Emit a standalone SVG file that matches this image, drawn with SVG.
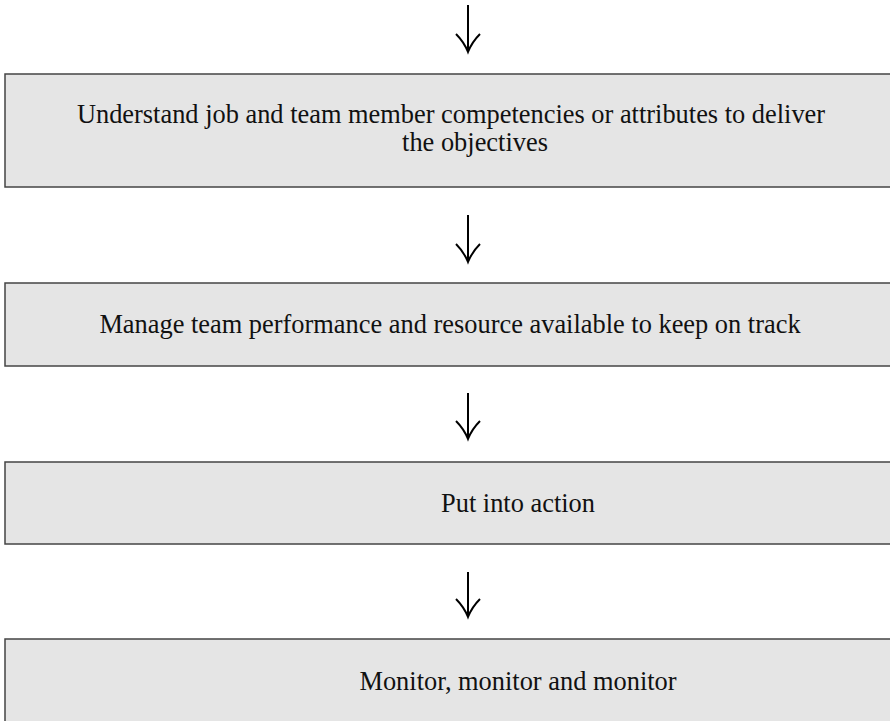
<svg xmlns="http://www.w3.org/2000/svg" width="890" height="721" viewBox="0 0 890 721">
  <style>
    .box { fill: #e5e5e5; stroke: #444; stroke-width: 1.5; }
    .label { font-family: "Liberation Serif", "Times New Roman", serif; font-size: 26.4px; fill: #111; text-anchor: middle; }
    .shaft { stroke: #000; stroke-width: 2; fill: none; }
    .head { stroke: #000; stroke-width: 2; fill: none; stroke-linejoin: miter; }
  </style>
  <rect width="890" height="721" fill="#fff"/>

  <g id="connectors">
    <g id="arrow-0">
      <line class="shaft" x1="468" y1="5" x2="468" y2="51"/>
      <path class="head" d="M456,34 Q464,42 468,52 Q472,42 480,34"/>
    </g>
    <g id="arrow-1">
      <line class="shaft" x1="468" y1="215" x2="468" y2="261"/>
      <path class="head" d="M456,244 Q464,252 468,262 Q472,252 480,244"/>
    </g>
    <g id="arrow-2">
      <line class="shaft" x1="468" y1="393" x2="468" y2="438"/>
      <path class="head" d="M456,421 Q464,429 468,439 Q472,429 480,421"/>
    </g>
    <g id="arrow-3">
      <line class="shaft" x1="468" y1="572" x2="468" y2="616"/>
      <path class="head" d="M456,599 Q464,607 468,617 Q472,607 480,599"/>
    </g>
  </g>

  <g id="understand">
    <rect class="box" x="5" y="74" width="900" height="113"/>
    <text class="label" x="451" y="123">Understand job and team member competencies or attributes to deliver</text>
    <text class="label" x="475" y="151">the objectives</text>
  </g>

  <g id="manage">
    <rect class="box" x="5" y="283" width="900" height="83"/>
    <text class="label" x="450" y="333">Manage team performance and resource available to keep on track</text>
  </g>

  <g id="action">
    <rect class="box" x="5" y="462" width="900" height="82"/>
    <text class="label" x="518" y="512">Put into action</text>
  </g>

  <g id="monitor">
    <rect class="box" x="5" y="639" width="900" height="90"/>
    <text class="label" x="518" y="690">Monitor, monitor and monitor</text>
  </g>
</svg>
